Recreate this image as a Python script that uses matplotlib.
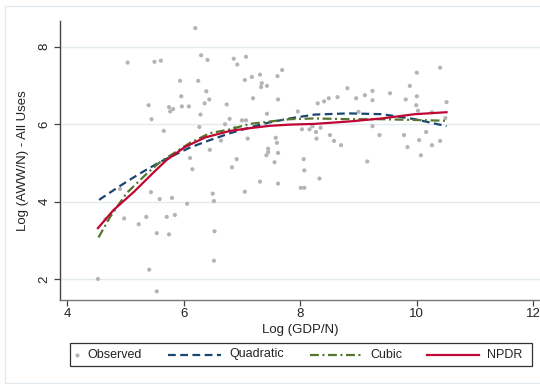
import matplotlib
matplotlib.use("Agg")
import matplotlib.pyplot as plt
from matplotlib.lines import Line2D
from matplotlib.patches import Rectangle

plt.rcParams['font.family'] = ['Liberation Sans', 'DejaVu Sans']

# Observed country data: log GDP per capita vs log water withdrawals per capita
obs_x = [4.53, 4.66, 4.91, 4.98, 5.04, 5.23, 5.36, 5.40, 5.41, 5.44, 5.45, 5.50,
         5.54, 5.54, 5.59, 5.61, 5.66, 5.71, 5.75, 5.75, 5.77, 5.80, 5.82, 5.85,
         5.94, 5.96, 5.97, 6.06, 6.09, 6.11, 6.15, 6.20, 6.25, 6.27, 6.29, 6.30,
         6.36, 6.39, 6.41, 6.44, 6.45, 6.50, 6.52, 6.53, 6.52, 6.64, 6.71, 6.74,
         6.79, 6.83, 6.86, 6.88, 6.91, 6.92, 7.00, 7.05, 7.05, 7.07, 7.07, 7.10,
         7.17, 7.19, 7.31, 7.31, 7.33, 7.34, 7.42, 7.43, 7.43, 7.45, 7.45, 7.56,
         7.58, 7.60, 7.61, 7.62, 7.62, 7.62, 7.69, 7.96, 8.01, 8.07, 8.03, 8.16,
         8.06, 8.07, 8.21, 8.27, 8.28, 8.30, 8.33, 8.35, 8.41, 8.49, 8.51, 8.58,
         8.64, 8.70, 8.81, 8.96, 9.00, 9.11, 9.15, 9.24, 9.24, 9.24, 9.36, 9.54,
         9.78, 9.81, 9.84, 9.88, 9.99, 10.00, 10.00, 10.02, 10.04, 10.07, 10.16,
         10.26, 10.26, 10.40, 10.40, 10.49, 10.51]
obs_y = [2.01, 3.55, 4.33, 3.57, 7.59, 3.42, 3.61, 6.49, 2.25, 4.25, 6.13, 7.61,
         3.19, 1.69, 4.07, 7.64, 5.83, 3.61, 3.16, 6.44, 6.33, 4.10, 6.39, 3.66,
         7.12, 6.72, 6.46, 3.95, 6.46, 5.13, 4.84, 8.48, 7.12, 5.93, 6.25, 7.78,
         6.54, 6.85, 7.66, 6.64, 5.34, 4.21, 4.02, 3.24, 2.48, 5.58, 6.00, 6.51,
         6.14, 4.89, 7.69, 5.91, 5.10, 7.54, 6.10, 7.14, 4.26, 6.10, 7.74, 5.63,
         7.22, 6.67, 7.28, 4.52, 6.96, 7.06, 5.20, 6.99, 6.27, 5.37, 5.28, 5.02,
         5.65, 5.52, 7.24, 6.64, 5.26, 4.47, 7.40, 6.33, 4.36, 4.36, 5.87, 5.87,
         5.10, 4.81, 5.95, 5.80, 5.63, 6.54, 4.60, 5.91, 6.59, 6.67, 5.72, 5.57,
         6.70, 5.46, 6.93, 6.67, 6.32, 6.75, 5.04, 6.86, 6.62, 5.95, 5.72, 6.80,
         5.72, 6.64, 5.41, 6.99, 6.49, 7.33, 6.72, 6.35, 5.59, 5.20, 5.80,
         6.31, 5.46, 7.46, 5.57, 6.16, 6.57]

# Fitted curves
quad_x = [4.55, 4.91, 5.25, 5.60, 6.11, 6.45, 6.80, 7.14, 7.48, 7.82, 8.25,
          8.83, 9.40, 9.97, 10.51]
quad_y = [4.05, 4.41, 4.73, 5.03, 5.40, 5.59, 5.77, 5.92, 6.05, 6.15, 6.25,
          6.28, 6.26, 6.13, 5.95]

cubic_x = [4.54, 4.74, 5.02, 5.37, 5.60, 6.11, 6.45, 6.80, 7.14, 7.48, 7.82,
           8.25, 8.83, 9.40, 9.97, 10.51]
cubic_y = [3.08, 3.61, 4.22, 4.73, 5.03, 5.52, 5.77, 5.87, 6.01, 6.07, 6.13,
           6.15, 6.13, 6.13, 6.11, 6.09]

npdr_x = [4.53, 4.80, 5.15, 5.50, 5.71, 6.02, 6.37, 6.80, 7.14, 7.48, 7.82,
          8.25, 8.83, 9.40, 9.97, 10.51]
npdr_y = [3.32, 3.79, 4.26, 4.78, 5.08, 5.41, 5.66, 5.83, 5.90, 5.96, 5.99,
          6.01, 6.07, 6.15, 6.26, 6.31]

x_ticks = [4, 6, 8, 10, 12]
y_ticks = [2, 4, 6, 8]
legend_labels = ["Observed", "Quadratic", "Cubic", "NPDR"]

C_OBS = "#b4b4b4"
C_QUAD = "#1a476f"
C_CUBIC = "#55752f"
C_NPDR = "#c10534"
C_GRID = "#e4ebee"
C_AXIS = "#444444"

W, H = 540, 384
fig = plt.figure(figsize=(W / 100, H / 100), dpi=100)
fig.patch.set_facecolor("white")

def fx(px):
    return px / W

def fy(py):
    return 1 - py / H

# outer graph frame
fig.add_artist(Rectangle((fx(5), fy(383)), 1.2, fy(6) - fy(383),
                         transform=fig.transFigure, fill=False,
                         edgecolor="#e2e9ee", linewidth=1.0))

ax = fig.add_axes([fx(60.3), fy(300), 1.0 - fx(60.3), fy(21) - fy(300)])
ax.set_facecolor("none")

ax.scatter(obs_x, obs_y, s=9, color=C_OBS, edgecolors="none", zorder=2)
ax.plot(quad_x, quad_y, color=C_QUAD, lw=1.6, dashes=(3.5, 2.0), zorder=3)
ax.plot(cubic_x, cubic_y, color=C_CUBIC, lw=1.6, dashes=(4.0, 1.6, 0.9, 1.6), zorder=3)
ax.plot(npdr_x, npdr_y, color=C_NPDR, lw=1.6, zorder=4)

ax.set_xlim(3.885, 12.113)
ax.set_ylim(1.467, 8.663)
ax.set_xticks(x_ticks)
ax.set_yticks(y_ticks)
ax.yaxis.grid(True, color=C_GRID, lw=1.0)
ax.set_axisbelow(True)

for s in ("top", "right"):
    ax.spines[s].set_visible(False)
ax.spines["left"].set_color(C_AXIS)
ax.spines["bottom"].set_color("#777777")
ax.spines["left"].set_linewidth(1.0)
ax.spines["bottom"].set_linewidth(1.0)

ax.tick_params(axis="both", direction="out", length=4, width=0.9,
               color=C_AXIS, labelsize=9.5, labelcolor="#222222")
ax.tick_params(axis="y", pad=3)
ax.tick_params(axis="x", pad=2)
for lab in ax.get_yticklabels():
    lab.set_rotation(90)
    lab.set_va("center")

ax.set_xlabel("Log (GDP/N)", fontsize=9.5, color="#222222")
ax.set_ylabel("Log (AWW/N) - All Uses", fontsize=9.5, color="#222222")
ax.xaxis.set_label_coords(0.5, -0.085)
ax.yaxis.set_label_coords(-0.065, 0.5)

# legend box
fig.add_artist(Rectangle((fx(69.5), fy(366)), fx(532) - fx(69.5), fy(342.5) - fy(366),
                         transform=fig.transFigure, fill=True, facecolor="white",
                         edgecolor="#333333", linewidth=0.9))
ly = fy(354.5)
fig.add_artist(Line2D([fx(76.5)], [ly], transform=fig.transFigure, marker="o",
                      markersize=3, color=C_OBS, markeredgewidth=0, linestyle="none"))
fig.add_artist(Line2D([fx(168), fx(221)], [ly, ly], transform=fig.transFigure,
                      color=C_QUAD, lw=1.6, dashes=(3.5, 2.0)))
fig.add_artist(Line2D([fx(310), fx(363)], [ly, ly], transform=fig.transFigure,
                      color=C_CUBIC, lw=1.6, dashes=(4.0, 1.6, 0.9, 1.6)))
fig.add_artist(Line2D([fx(427), fx(479)], [ly, ly], transform=fig.transFigure,
                      color=C_NPDR, lw=1.6))
for px, lab in zip([87, 229, 370, 487], legend_labels):
    fig.text(fx(px), ly, lab, fontsize=9, color="#222222", va="center", ha="left")

fig.savefig("out.png", dpi=100)
